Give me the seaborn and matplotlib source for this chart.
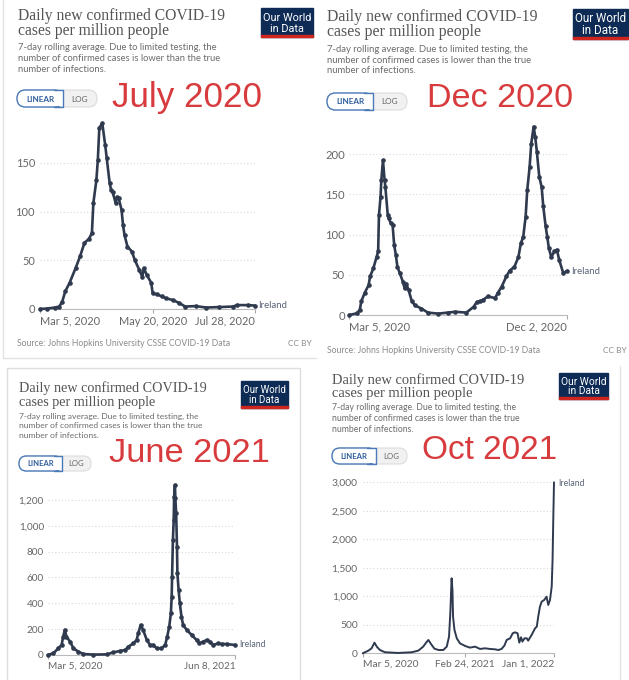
import matplotlib
matplotlib.use("Agg")
import numpy as np
import pandas as pd
import seaborn as sns
import matplotlib.pyplot as plt
from matplotlib.patches import FancyBboxPatch, Rectangle

# ---------------- DATA (days since Mar 5, 2020 ; cases per million) ----------------
jul20_days = [0, 5, 10, 13, 15, 17, 20, 24, 27, 30, 33, 35, 36, 38, 39, 40, 42, 44, 45, 47, 48, 49,
              51, 52, 53, 55, 56, 57, 59, 62, 64, 67, 69, 70, 72, 75, 76, 79, 82, 85, 90, 94, 98,
              105, 112, 121, 130, 133, 140, 145]
jul20_vals = [0, 0.5, 1.5, 2.5, 7.5, 18, 27, 42, 54, 68, 72, 78, 109, 132, 153, 186, 191, 168, 155,
              129, 122, 120, 109, 115, 114, 102, 86, 76, 64, 59, 50, 40, 33, 42, 35, 27, 16, 15, 13,
              11, 9, 6, 2.5, 3, 1.5, 2, 2.5, 4, 4, 3.5]

dec20_days = [0, 9, 13, 15, 19, 24, 26, 30, 34, 36, 37, 39, 40, 42, 44, 45, 48, 49, 52, 54, 56, 58,
              60, 63, 67, 69, 71, 74, 78, 82, 90, 98, 111, 123, 132, 146, 155, 159, 163, 167, 173,
              182, 185, 190, 196, 200, 206, 211, 214, 217, 220, 222, 225, 227, 230, 232, 234, 237,
              240, 242, 245, 247, 249, 252, 256, 259, 262, 267, 272]
dec20_vals = [0, 2, 6, 17, 27, 37, 48, 58, 72, 79, 124, 147, 168, 192, 168, 159, 124, 120, 114, 112,
              87, 75, 60, 52, 41, 33, 39, 31, 17, 12, 8, 3, 1.7, 3, 4, 3, 10, 16, 17, 19, 23, 21, 27,
              35, 48, 55, 60, 72, 89, 97, 122, 155, 184, 213, 234, 221, 203, 172, 159, 135, 110, 97,
              83, 72, 79, 81, 68, 52, 55]

jun21_days = [0, 14, 26, 34, 38, 42, 46, 55, 63, 75, 87, 112, 145, 161, 177, 190, 198, 210, 218, 222,
              228, 234, 243, 251, 259, 267, 279, 288, 293, 298, 302, 304, 305, 307, 309, 310, 312,
              313, 315, 317, 318, 321, 324, 328, 332, 341, 353, 365, 372, 381, 390, 398, 406, 418,
              427, 439, 460]
jun21_vals = [0, 13, 52, 77, 142, 194, 142, 103, 52, 26, 8, 3, 5, 20, 31, 39, 65, 90, 116, 168, 232,
              194, 116, 77, 77, 52, 52, 77, 142, 219, 322, 451, 606, 890, 1045, 1226, 1316, 1213,
              1097, 839, 632, 503, 400, 297, 232, 194, 155, 116, 90, 103, 116, 103, 77, 90, 85, 85, 77]

oct21_days = [0, 20, 31, 41, 49, 60, 78, 124, 171, 194, 211, 221, 229, 238, 250, 264, 281, 293, 301,
              306, 308, 310, 313, 315, 320, 328, 339, 357, 374, 392, 409, 426, 444, 461, 473, 484,
              494, 502, 514, 523, 531, 540, 546, 552, 557, 564, 572, 577, 589, 601, 607, 612, 618,
              624, 633, 641, 647, 653, 659, 662, 664, 667]
oct21_vals = [0, 47, 88, 187, 117, 58, 18, 6, 18, 47, 117, 187, 234, 164, 82, 58, 58, 117, 292, 760,
              1053, 1316, 1111, 643, 409, 263, 175, 129, 99, 117, 76, 88, 76, 70, 58, 76, 135, 234,
              263, 351, 368, 351, 187, 281, 205, 263, 263, 222, 322, 439, 468, 643, 819, 906, 936,
              994, 848, 936, 1170, 1637, 2222, 3000]

jul20_xticks = [0, 76, 145]
jul20_xlabels = ["Mar 5, 2020", "May 20, 2020", "Jul 28, 2020"]
dec20_xticks = [0, 272]
dec20_xlabels = ["Mar 5, 2020", "Dec 2, 2020"]
jun21_xticks = [0, 460]
jun21_xlabels = ["Mar 5, 2020", "Jun 8, 2021"]
oct21_xticks = [0, 356, 667]
oct21_xlabels = ["Mar 5, 2020", "Feb 24, 2021", "Jan 1, 2022"]

jul20_yticks = [0, 50, 100, 150]
dec20_yticks = [0, 50, 100, 150, 200]
jun21_yticks = [0, 200, 400, 600, 800, 1000, 1200]
oct21_yticks = [0, 500, 1000, 1500, 2000, 2500, 3000]

snapshot_labels = ["July 2020", "Dec 2020", "June 2021", "Oct 2021"]
entity = "Ireland"
title_lines = ["Daily new confirmed COVID-19", "cases per million people"]
subtitle_lines = ["7-day rolling average. Due to limited testing, the",
                  "number of confirmed cases is lower than the true",
                  "number of infections."]
logo_lines = ["Our World", "in Data"]
source_text = "Source: Johns Hopkins University CSSE COVID-19 Data"
license_text = "CC BY"

# ---------------- STYLE ----------------
sns.set_theme(style="white")
plt.rcParams["font.family"] = ["Lato", "DejaVu Sans"]

W, H = 629, 680
LINE = "#2f3a4f"
RED = "#d83b3d"
GREY_T = "#555555"
GREY_S = "#6b6b6b"

fig = plt.figure(figsize=(W / 100, H / 100), dpi=100)
fig.patch.set_facecolor("white")
bg = fig.add_axes([0, 0, 1, 1], zorder=0)
bg.set_xlim(0, W)
bg.set_ylim(H, 0)
bg.axis("off")
R = fig.canvas.get_renderer()


def size_for(s, w, **kw):
    t = bg.text(0, 0, s, fontsize=10, **kw)
    wd = t.get_window_extent(renderer=R).width
    t.remove()
    return 10 * w / wd


def lp_height(fs, **kw):
    t = bg.text(0, 0, "lp", fontsize=fs, **kw)
    h = t.get_window_extent(renderer=R).height
    t.remove()
    return h


def fit(s, x, y, w, ha="left", va="baseline", **kw):
    fs = size_for(s, w, **kw)
    return bg.text(x, y, s, ha=ha, va=va, fontsize=fs, **kw)


def multiline(lines, x, last_base, gap, fs, ha="left", **kw):
    # va='baseline' on multi-line text aligns the baseline of the last line
    ls = gap / lp_height(fs, **kw)
    return bg.text(x, last_base, "\n".join(lines), ha=ha, va="baseline", fontsize=fs,
                   linespacing=ls, multialignment=ha, **kw)


def logo(x0, y0, x1, y1):
    bg.add_patch(Rectangle((x0, y0), x1 - x0, y1 - y0, color="#0d2b55", zorder=2))
    bg.add_patch(Rectangle((x0, y1 - 2.2), x1 - x0, 2.2, color="#ce261e", zorder=3))
    h = y1 - y0
    fs = size_for(logo_lines[0], (x1 - x0) - 4, family="Roboto")
    multiline(logo_lines, (x0 + x1) / 2, y0 + 0.82 * h, 0.37 * h, fs, ha="center",
              color="white", family="Roboto", zorder=4)


def button(x0, xs, x1, y0, y1):
    h = y1 - y0
    bg.add_patch(FancyBboxPatch((x0, y0), x1 - x0, h,
                                boxstyle=f"round,pad=0,rounding_size={h / 2}",
                                fc="#f1f1f1", ec="#dcdcdc", lw=0.8, zorder=2))
    bg.add_patch(FancyBboxPatch((x0, y0), xs - x0, h,
                                boxstyle=f"round,pad=0,rounding_size={h / 2}",
                                fc="white", ec="#4a7ab8", lw=1.0, zorder=3))
    bg.add_patch(Rectangle((xs - h / 2 - 1, y0 + 0.6), h / 2 + 1, h - 1.2, fc="white", ec="none", zorder=4))
    bg.plot([xs - h / 2 - 1, xs, xs, xs - h / 2 - 1], [y0, y0, y1, y1], color="#4a7ab8", lw=1.0, zorder=5)
    fs = size_for("LINEAR", (xs - x0) * 0.62, weight="bold")
    bg.text((x0 + xs) / 2, (y0 + y1) / 2 + 0.5, "LINEAR", ha="center", va="center",
            fontsize=fs, weight="bold", color="#2f5e9e", zorder=6)
    bg.text((xs + x1) / 2, (y0 + y1) / 2 + 0.5, "LOG", ha="center", va="center",
            fontsize=fs, color="#666666", zorder=6)


def header(x, t_base, t_w, s_base, s_w):
    fs = size_for(title_lines[0], t_w, family="Liberation Serif")
    multiline(title_lines, x, t_base[1], t_base[1] - t_base[0], fs,
              family="Liberation Serif", color=GREY_T)
    fs2 = size_for(subtitle_lines[1], s_w)
    multiline(subtitle_lines, x, s_base[2], (s_base[2] - s_base[0]) / 2, fs2, color=GREY_S)


def chart(rect, days, vals, xmax, ymax, xticks, xlabels, yticks, label_w, ypad_px,
          markers, lw, ireland_xy, ireland_w):
    x0, x1, ytop, ybot = rect
    ax = fig.add_axes([x0 / W, 1 - ybot / H, (x1 - x0) / W, (ybot - ytop) / H], zorder=5)
    ax.patch.set_alpha(0)
    df = pd.DataFrame({"day": days, "cases": vals})
    kw = dict(marker="o", markersize=3.3, markeredgewidth=0) if markers else {}
    sns.lineplot(data=df, x="day", y="cases", ax=ax, color=LINE, linewidth=lw,
                 clip_on=False, zorder=5, **kw)
    ax.set_xlim(0, xmax)
    ax.set_ylim(0, ymax)
    ax.set_xlabel("")
    ax.set_ylabel("")
    fs = size_for("Mar 5, 2020", label_w)
    ax.set_yticks(yticks)
    ax.set_yticklabels([f"{v:,}" for v in yticks])
    ax.set_xticks(xticks)
    ax.set_xticklabels(xlabels)
    ax.tick_params(axis="y", length=0, pad=ypad_px * 0.72, labelsize=fs, labelcolor="#666666")
    ax.tick_params(axis="x", length=3.2, width=0.8, color="#aaaaaa", pad=1.5,
                   labelsize=fs, labelcolor="#666666", bottom=True)
    labs = ax.get_xticklabels()
    labs[0].set_ha("left")
    labs[-1].set_ha("right")
    ax.yaxis.grid(True, color="#d9d9d9", linestyle=(0, (1, 2)), linewidth=0.8)
    ax.xaxis.grid(False)
    for s in ["top", "right", "left"]:
        ax.spines[s].set_visible(False)
    ax.spines["bottom"].set_color("#bbbbbb")
    ax.spines["bottom"].set_linewidth(0.8)
    fit(entity, ireland_xy[0], ireland_xy[1], ireland_w, va="center", color="#5a6378")
    return ax


# ---------------- CARDS ----------------
bg.plot([3, 3, 316], [-2, 358, 358], color="#e2e2e2", lw=1.0)
bg.add_patch(Rectangle((7, 368), 293, 320, fc="none", ec="#dedede", lw=1.0))
bg.plot([620, 620], [366, 682], color="#e2e2e2", lw=1.0)

# ---------------- TOP LEFT : July 2020 ----------------
header(18, [20.7, 35], 207, [49, 60.7, 71.7], 202)
logo(261, 8, 313, 37)
button(17, 63, 97, 90, 107)
fit(snapshot_labels[0], 112, 107, 151, family="Liberation Sans", color=RED)
chart((40, 255, 118, 309), jul20_days, jul20_vals, 145, 196.2, jul20_xticks, jul20_xlabels,
      jul20_yticks, 60, 5, True, 1.9, (258, 305), 29)
fit(source_text, 17, 345.7, 211, color="#8a8a8a")
fit(license_text, 312, 345.7, 24, ha="right", color="#8a8a8a")

# ---------------- TOP RIGHT : Dec 2020 ----------------
header(327, [21.7, 36], 210, [51.7, 62.7, 73.3], 205)
logo(573, 9, 628, 39)
button(327, 373, 407, 93, 110)
fit(snapshot_labels[1], 427, 107, 147, family="Liberation Sans", color=RED)
chart((349.3, 567.3, 122, 315), dec20_days, dec20_vals, 272, 239.8, dec20_xticks, dec20_xlabels,
      dec20_yticks, 61, 4.3, True, 1.9, (571.5, 271.7), 29)
fit(source_text, 326.7, 353, 214, color="#8a8a8a")
fit(license_text, 626.5, 353, 24, ha="right", color="#8a8a8a")

# ---------------- BOTTOM LEFT : June 2021 ----------------
header(19, [391.7, 405.7], 188, [417.7, 428.3, 438.3], 183)
logo(241, 381, 288, 408)
button(19, 62, 91, 456, 471)
fit(snapshot_labels[2], 109, 462, 161, family="Liberation Sans", color=RED)
chart((47.7, 235.3, 482, 655), jun21_days, jun21_vals, 460, 1339, jun21_xticks, jun21_xlabels,
      jun21_yticks, 54, 3.7, True, 1.9, (239, 644.3), 26.7)

# ---------------- BOTTOM RIGHT : Oct 2021 ----------------
header(332, [384, 396.7], 193, [409.3, 421, 431.7], 188)
logo(559, 373, 608, 399)
button(332, 376, 407, 448, 464)
fit(snapshot_labels[3], 422, 459, 136, family="Liberation Sans", color=RED)
chart((362.7, 554, 481, 653.3), oct21_days, oct21_vals, 667, 3023, oct21_xticks, oct21_xlabels,
      oct21_yticks, 55.7, 5, False, 1.4, (558, 483), 26.7)

fig.savefig("out.png", dpi=100)
